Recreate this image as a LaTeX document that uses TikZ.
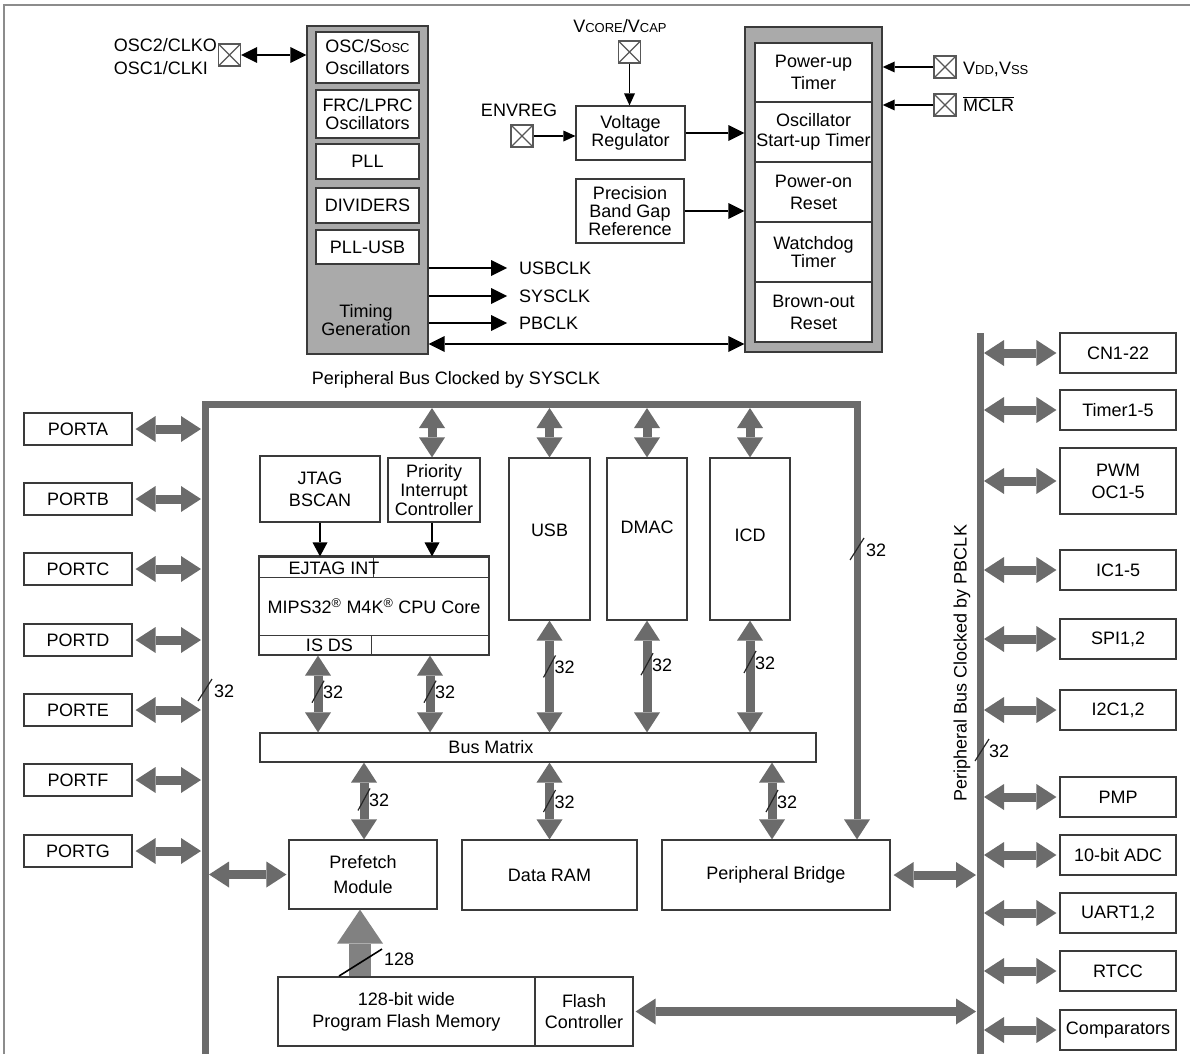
\documentclass[tikz,border=0pt]{standalone}
\usepackage{fontspec}
\setmainfont{Liberation Sans}
\usetikzlibrary{arrows.meta,calc}
\definecolor{busgray}{HTML}{6B6B6B}
\definecolor{blkfill}{HTML}{AAAAAA}
\definecolor{edge}{HTML}{3A3A3A}
\definecolor{framegray}{HTML}{8C8C8C}
\newcommand{\smc}[1]{{\fontsize{13}{13}\selectfont #1}}
\begin{document}
\begin{tikzpicture}[x=1pt,y=-1pt,
  every node/.style={font=\fontsize{18}{20}\selectfont},
  box/.style={draw=edge, line width=1.2pt, fill=white, inner sep=0.5pt, align=center},
  blk/.style={draw=edge, line width=1.4pt, fill=blkfill},
  pin/.style={draw=edge!85, line width=1.4pt, minimum width=22pt, minimum height=22pt, inner sep=0pt,
    path picture={\draw[edge!85, line width=1.2pt] (path picture bounding box.north west) -- (path picture bounding box.south east) (path picture bounding box.north east) -- (path picture bounding box.south west);}},
  bigarr/.style={draw=black, line width=2.4pt, -{Triangle[length=16pt,width=16pt,line width=0pt]}},
  bigdbl/.style={draw=black, line width=2.4pt, {Triangle[length=16pt,width=16pt,line width=0pt]}-{Triangle[length=16pt,width=16pt,line width=0pt]}},
  thinarr/.style={draw=black, line width=1.1pt, -{Triangle[length=12pt,width=11pt,line width=0pt]}},
  gdbl/.style={draw=busgray, line width=9pt, {Triangle[length=20pt,width=26pt,line width=0pt]}-{Triangle[length=20pt,width=26pt,line width=0pt]}},
  bus/.style={draw=busgray, line width=7pt},
  slash/.style={draw=black!85, line width=1.2pt},
  lbl/.style={inner sep=0pt},
]
\useasboundingbox (0,0) rectangle (1190,1054);
% frame
\draw[framegray, line width=2pt] (4,1054) -- (4,5) -- (1190,5);

% ---------- oscillator block ----------
\node[blk, minimum width=121pt, minimum height=328pt] (oscblk) at (367.5,190) {};
\node[box, minimum width=103pt, minimum height=51pt, font=\fontsize{18}{22}\selectfont] (oscs) at (367.5,57.5) {OSC/S\smc{OSC}\\Oscillators};
\node[box, minimum width=103pt, minimum height=48pt, font=\fontsize{18}{18}\selectfont] (frc) at (367.5,114) {FRC/LPRC\\Oscillators};
\node[box, minimum width=103pt, minimum height=35pt] (pll) at (367.5,161.5) {PLL};
\node[box, minimum width=103pt, minimum height=35pt] (div) at (367.5,205.5) {DIVIDERS};
\node[box, minimum width=103pt, minimum height=34pt] (pllusb) at (367.5,247) {PLL-USB};
\node[lbl, align=center, font=\fontsize{18}{18}\selectfont] (timing) at (366,320) {Timing\\Generation};

\node[pin] (oscpin) at (229.5,55) {};
\node[lbl, anchor=east, align=left, font=\fontsize{18}{23}\selectfont] (osclbl) at (217,57) {OSC2/CLKO\\OSC1/CLKI};
\draw[bigdbl] (oscpin.east) -- (oscblk.west |- oscpin.east);

\node[lbl, anchor=west] (usbclk) at (519,268) {USBCLK};
\node[lbl, anchor=west] (sysclk) at (519,296) {SYSCLK};
\node[lbl, anchor=west] (pbclk) at (519,323) {PBCLK};
\draw[bigarr] (oscblk.east |- usbclk.west) -- ([xshift=-12pt]usbclk.west);
\draw[bigarr] (oscblk.east |- sysclk.west) -- ([xshift=-12pt]sysclk.west);
\draw[bigarr] (oscblk.east |- pbclk.west) -- ([xshift=-12pt]pbclk.west);

% ---------- voltage regulator ----------
\node[box, minimum width=109pt, minimum height=54pt, font=\fontsize{18}{18}\selectfont] (vreg) at (630.5,133) {Voltage\\Regulator};
\node[box, minimum width=108pt, minimum height=64pt, font=\fontsize{18}{18}\selectfont] (pbg) at (630,211) {Precision\\Band Gap\\Reference};
\node[pin] (vcpin) at (629.5,52) {};
\node[lbl] (vclbl) at (620,26) {V\smc{CORE}/V\smc{CAP}};
\draw[thinarr] (vcpin.south) -- (vcpin.south |- vreg.north);
\node[pin] (envpin) at (522,136) {};
\node[lbl] (envlbl) at (519,110) {ENVREG};
\draw[thinarr] (envpin.east) -- (vreg.west |- envpin.east);

% ---------- reset block ----------
\node[blk, minimum width=137pt, minimum height=325pt] (rstblk) at (813.5,189.5) {};
\node[box, minimum width=117pt, minimum height=59pt, font=\fontsize{18}{22}\selectfont] (put) at (813.5,72.5) {Power-up\\Timer};
\node[box, minimum width=117pt, minimum height=60pt] (ost) at (813.5,132) {Oscillator\\Start-up Timer};
\node[box, minimum width=117pt, minimum height=60pt, font=\fontsize{18}{22}\selectfont] (por) at (813.5,192) {Power-on\\Reset};
\node[box, minimum width=117pt, minimum height=60pt, font=\fontsize{18}{18}\selectfont] (wdt) at (813.5,252) {Watchdog\\Timer};
\node[box, minimum width=117pt, minimum height=60pt, font=\fontsize{18}{22}\selectfont] (bor) at (813.5,312) {Brown-out\\Reset};
\draw[bigarr] (vreg.east) -- (rstblk.west |- vreg.east);
\draw[bigarr] (pbg.east) -- (rstblk.west |- pbg.east);
\draw[bigdbl] ([yshift=-154pt]oscblk.east) -- ([yshift=-154pt]oscblk.east -| rstblk.west);

\node[pin] (vddpin) at (945,67) {};
\node[pin] (mclrpin) at (945,105) {};
\node[lbl, anchor=west] (vddlbl) at (963,69) {V\smc{DD},V\smc{SS}};
\node[lbl, anchor=west] (mclrlbl) at (963,104) {$\overline{\hbox{MCLR}}$};
\draw[thinarr] (vddpin.west) -- (rstblk.east |- vddpin.west);
\draw[thinarr] (mclrpin.west) -- (rstblk.east |- mclrpin.west);

% ---------- SYSCLK peripheral bus ----------
\node[lbl] (syslbl) at (456,380) {Peripheral Bus Clocked by SYSCLK};
\coordinate (sA) at (205,1054);
\coordinate (sB) at (205,404);
\coordinate (sC) at (857,404);

% ports
\foreach \n/\t/\y in {pa/PORTA/429, pb/PORTB/499, pc/PORTC/569, pd/PORTD/640, pe/PORTE/710, pf/PORTF/780, pg/PORTG/851}{
  \node[box, minimum width=108pt, minimum height=32pt] (\n) at (78,\y) {\t};
  \draw[gdbl] ([xshift=3pt]\n.east) -- ($(sB |- \n.east)+(-4,0)$);
}

% CPU area
\node[box, minimum width=120pt, minimum height=66pt, font=\fontsize{18}{22}\selectfont] (jtag) at (320,489) {JTAG\\BSCAN};
\node[box, minimum width=92pt, minimum height=64pt, font=\fontsize{18}{19}\selectfont] (pic) at (434,490) {Priority\\Interrupt\\Controller};
\node[box, minimum width=230pt, minimum height=98pt] (cpu) at (374,606) {MIPS32\textsuperscript{®} M4K\textsuperscript{®} CPU Core};
\draw[edge, line width=2.2pt] (cpu.north west) -- (cpu.north east);
\draw[edge, line width=1.2pt] ($(cpu.north west)+(0,21)$) -- ($(cpu.north east)+(0,21)$);
\draw[edge, line width=1.2pt] ($(cpu.north west)+(115,0)$) -- ($(cpu.north west)+(115,21)$);
\draw[edge, line width=1.2pt] ($(cpu.south west)+(0,-20)$) -- ($(cpu.south east)+(0,-20)$);
\draw[edge, line width=1.2pt] ($(cpu.south west)+(113,0)$) -- ($(cpu.south west)+(113,-20)$);
\node[lbl] (ejtag) at (334,568) {EJTAG INT};
\node[lbl] (isds) at (329.5,645) {IS DS};
\draw[bigarr, line width=2pt, -{Triangle[length=14pt,width=15pt,line width=0pt]}] (jtag.south) -- (jtag.south |- cpu.north);
\coordinate (picx) at (432,0);
\draw[bigarr, line width=2pt, -{Triangle[length=14pt,width=15pt,line width=0pt]}] (pic.south -| picx) -- (cpu.north -| picx);

\node[box, minimum width=81pt, minimum height=162pt, label={[yshift=9pt]center:USB}] (usb) at (549.5,539) {};
\node[box, minimum width=80pt, minimum height=162pt, label={[yshift=12pt]center:DMAC}] (dmac) at (647,539) {};
\node[box, minimum width=80pt, minimum height=162pt, label={[yshift=4pt]center:ICD}] (icd) at (750,539) {};
\node[box, minimum width=556pt, minimum height=29pt, label={[xshift=-47pt]center:Bus Matrix}] (bm) at (538,747.5) {};

\node[box, minimum width=148pt, minimum height=69pt, font=\fontsize{18}{25}\selectfont] (pref) at (363,874.5) {Prefetch\\Module};
\node[box, minimum width=175pt, minimum height=70pt] (dram) at (549.5,875) {Data RAM};
\node[box, minimum width=228pt, minimum height=70pt] (pbr) at (776,875) {Peripheral Bridge};
\node[box, minimum width=257pt, minimum height=69pt, font=\fontsize{18}{22}\selectfont] (flashmem) at (406.5,1011.5) {128-bit wide\\Program Flash Memory};
\node[box, minimum width=98pt, minimum height=69pt, font=\fontsize{18}{21}\selectfont] (flashctl) at (584,1011.5) {Flash\\Controller};

% SYSCLK bus line
\draw[bus, line join=miter, -{Triangle[length=20pt,width=26pt,line width=0pt]}] (sA) -- (sB) -- (sC) -- (sC |- pbr.north);

% bus -> modules (upper)
\draw[gdbl] ($(sB -| picx)+(0,4)$) -- (pic.north -| picx);
\draw[gdbl] ($(sB -| usb.north)+(0,4)$) -- (usb.north);
\draw[gdbl] ($(sB -| dmac.north)+(0,4)$) -- (dmac.north);
\draw[gdbl] ($(sB -| icd.north)+(0,4)$) -- (icd.north);

% CPU <-> bus matrix
\coordinate (c1) at (318,0);
\coordinate (c2) at (430,0);
\draw[gdbl] (cpu.south -| c1) -- coordinate[pos=0.47] (m1) (bm.north -| c1);
\draw[gdbl] (cpu.south -| c2) -- coordinate[pos=0.47] (m2) (bm.north -| c2);
\draw[gdbl] (usb.south) -- coordinate[pos=0.41] (m3) (bm.north -| usb.south);
\draw[gdbl] (dmac.south) -- coordinate[pos=0.39] (m4) (bm.north -| dmac.south);
\draw[gdbl] (icd.south) -- coordinate[pos=0.37] (m5) (bm.north -| icd.south);
\coordinate (c3) at (364,0);
\coordinate (c5) at (772,0);
\draw[gdbl] (bm.south -| c3) -- coordinate[pos=0.48] (m6) (pref.north -| c3);
\draw[gdbl] (bm.south -| dram.north) -- coordinate[pos=0.5] (m7) (dram.north);
\draw[gdbl] (bm.south -| c5) -- coordinate[pos=0.5] (m8) (pbr.north -| c5);
\foreach \m in {m1,m2,m3,m4,m5,m6,m7,m8}{
  \draw[slash] ($(\m)+(-6,11)$) -- ($(\m)+(6,-11)$);
  \node[lbl, anchor=west] at ($(\m)+(5,1)$) {32};
}

% bus width marks on the buses
\coordinate (r32) at (857,549);
\coordinate (l32) at (205,690);
\draw[slash] ($(r32)+(-7,11)$) -- ($(r32)+(7,-11)$);
\node[lbl, anchor=west] at ($(r32)+(9,1)$) {32};
\draw[slash] ($(l32)+(-7,11)$) -- ($(l32)+(7,-11)$);
\node[lbl, anchor=west] at ($(l32)+(9,1)$) {32};

% 128-bit path
\coordinate (ax) at (360,0);
\draw[draw=busgray!85, line width=22pt, -{Triangle[length=34pt,width=46pt,line width=0pt]}] (flashmem.north -| ax) -- coordinate[pos=0.2] (m128) (pref.south -| ax);
\draw[black, line width=1.6pt] ($(m128)+(-21,13)$) -- ($(m128)+(22,-14)$);
\node[lbl, anchor=west] at ($(m128)+(24,-4)$) {128};

% left bus <-> prefetch
\draw[gdbl] ($(sB |- pref.west)+(4,0)$) -- ([xshift=-2pt]pref.west);

% ---------- PBCLK bus ----------
\coordinate (pT) at (980,333);
\coordinate (pB) at (980,1054);
\draw[bus] (pT) -- (pB);
\node[lbl, rotate=90] (pblbl) at (962,663) {Peripheral Bus Clocked by PBCLK};
\coordinate (p32) at (982,750);
\draw[slash] ($(p32)+(-7,11)$) -- ($(p32)+(7,-11)$);
\node[lbl, anchor=west] at ($(p32)+(7,1)$) {32};

\foreach \n/\t/\y/\h in {cn/CN1-22/353/40, tmr/Timer1-5/410/40, pwm/{PWM\\OC1-5}/481/66, ic/IC1-5/570/40, spi/{SPI1,2}/639/40, iic/{I2C1,2}/710/40, pmp/PMP/797/40, adc/10-bit ADC/855/40, uart/{UART1,2}/913/40, rtcc/RTCC/971/40, cmp/Comparators/1030/40}{
  \node[box, minimum width=116pt, minimum height=\h pt, font=\fontsize{18}{22}\selectfont] (\n) at (1118,\y) {\t};
  \draw[gdbl] ($(pT |- \n.west)+(4,0)$) -- ([xshift=-3pt]\n.west);
}
\draw[gdbl] ([xshift=3pt]pbr.east) -- ($(pT |- pbr.east)+(-4,0)$);
\draw[gdbl] ([xshift=2pt]flashctl.east) -- ($(pT |- flashctl.east)+(-4,0)$);
\end{tikzpicture}
\end{document}
